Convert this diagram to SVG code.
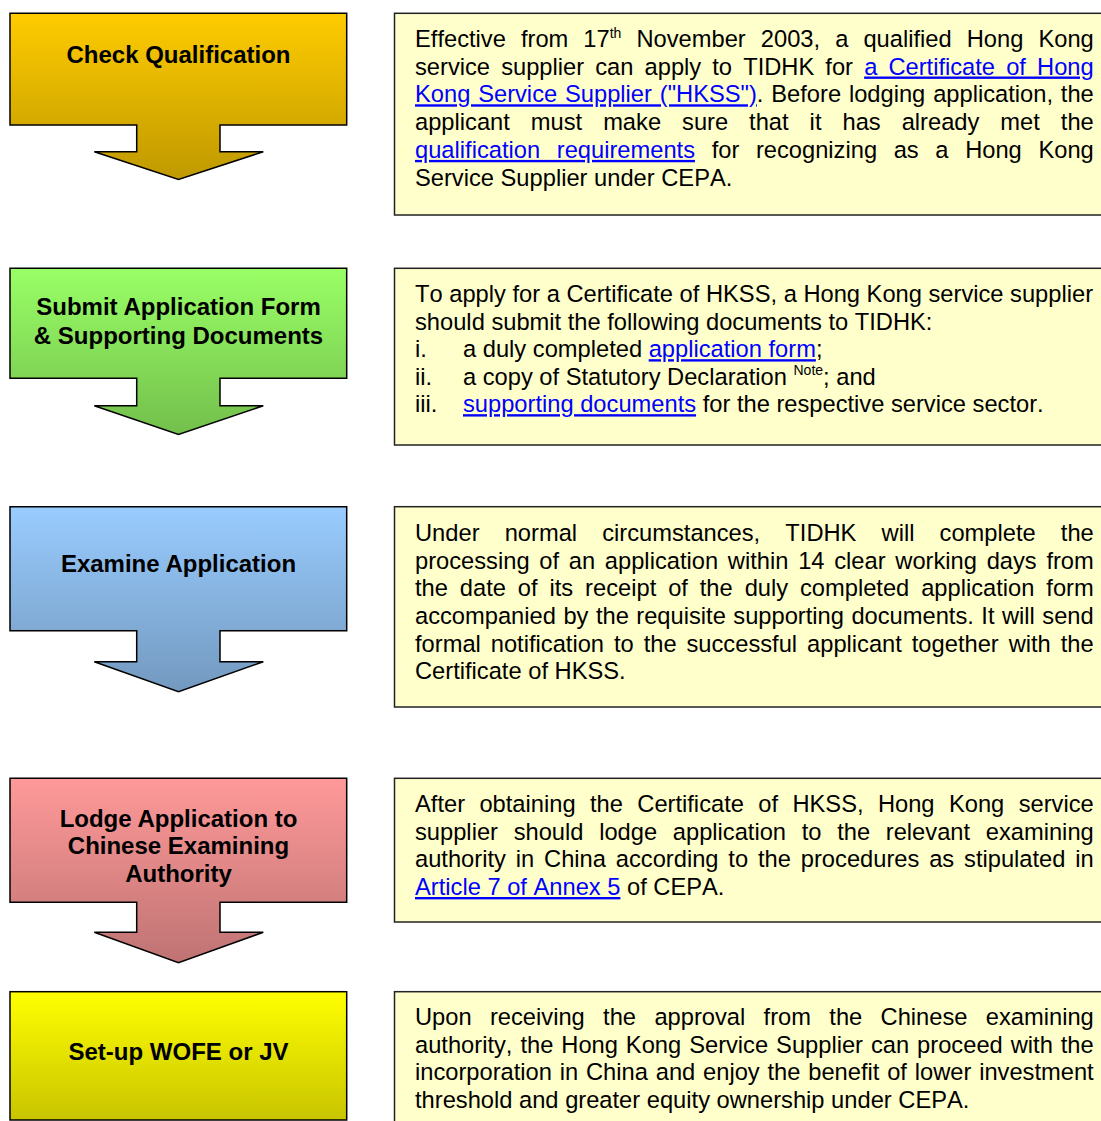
<svg xmlns="http://www.w3.org/2000/svg" width="1101" height="1121" viewBox="0 0 1101 1121">
<style>
.lbl{font-family:"Liberation Sans",Arial,sans-serif;font-weight:bold;font-size:24px;text-anchor:middle;fill:#000}
.txt{font-family:"Liberation Sans",Arial,sans-serif;font-size:23.7px;fill:#000;font-kerning:none}
.lnk{fill:#0000FF;text-decoration:underline}
.sup{font-size:14px}
.arrow{stroke:#000;stroke-width:1.5}
.box{fill:#FFFFCC;stroke:#222;stroke-width:1.5}
</style>
<defs>
<linearGradient id="g1" x1="0" y1="0" x2="0" y2="1"><stop offset="0" stop-color="#FFCC00"/><stop offset="1" stop-color="#BF9900"/></linearGradient>
<linearGradient id="g2" x1="0" y1="0" x2="0" y2="1"><stop offset="0" stop-color="#99FF66"/><stop offset="1" stop-color="#73BF4C"/></linearGradient>
<linearGradient id="g3" x1="0" y1="0" x2="0" y2="1"><stop offset="0" stop-color="#99CCFF"/><stop offset="1" stop-color="#7399BF"/></linearGradient>
<linearGradient id="g4" x1="0" y1="0" x2="0" y2="1"><stop offset="0" stop-color="#FF9999"/><stop offset="1" stop-color="#BF7373"/></linearGradient>
<linearGradient id="g5" x1="0" y1="0" x2="0" y2="1"><stop offset="0" stop-color="#FFFF00"/><stop offset="1" stop-color="#C8C400"/></linearGradient>
</defs>
<rect width="1101" height="1121" fill="#FFFFFF"/>

<g id="step1">
<path class="arrow" fill="url(#g1)" d="M10,13.3 H346.7 V125 H220 V151.7 H263.3 L178.5,179.5 L94.3,151.7 H136.7 V125 H10 Z"/>
<text class="lbl" x="178.5" y="63">Check Qualification</text>
</g>
<g id="step2">
<path class="arrow" fill="url(#g2)" d="M10,268.3 H346.7 V378.3 H220 V405.7 H263.3 L178.5,434.5 L94.3,405.7 H136.7 V378.3 H10 Z"/>
<text class="lbl" x="178.5" y="314.5">Submit Application Form</text>
<text class="lbl" x="178.5" y="343.5">&amp; Supporting Documents</text>
</g>
<g id="step3">
<path class="arrow" fill="url(#g3)" d="M10,506.7 H346.7 V630.7 H220 V661.7 H263.3 L178.5,691.7 L94.3,661.7 H136.7 V630.7 H10 Z"/>
<text class="lbl" x="178.5" y="572">Examine Application</text>
</g>
<g id="step4">
<path class="arrow" fill="url(#g4)" d="M10,778.3 H346.7 V902.3 H220 V932.3 H263.3 L178.5,962.7 L94.3,932.3 H136.7 V902.3 H10 Z"/>
<text class="lbl" x="178.5" y="826.7">Lodge Application to</text>
<text class="lbl" x="178.5" y="854.3">Chinese Examining</text>
<text class="lbl" x="178.5" y="881.7">Authority</text>
</g>
<g id="step5">
<rect class="arrow" fill="url(#g5)" x="10" y="991.7" width="336.7" height="128.3"/>
<text class="lbl" x="178.5" y="1060">Set-up WOFE or JV</text>
</g>

<g id="desc1">
<rect class="box" x="394.5" y="13.3" width="720" height="201.7"/>
<text class="txt" x="415" y="46.7" word-spacing="8.49">Effective from 17<tspan class="sup" dy="-9">th</tspan><tspan dy="9"> November 2003, a qualified Hong Kong</tspan></text>
<text class="txt" x="415" y="74.5" word-spacing="4.54">service supplier can apply to TIDHK for <tspan class="lnk">a Certificate of Hong</tspan></text>
<text class="txt" x="415" y="102.3" word-spacing="1.26"><tspan class="lnk">Kong Service Supplier ("HKSS")</tspan>. Before lodging application, the</text>
<text class="txt" x="415" y="130.1" word-spacing="14.41">applicant must make sure that it has already met the</text>
<text class="txt" x="415" y="157.9" word-spacing="10.06"><tspan class="lnk">qualification requirements</tspan> for recognizing as a Hong Kong</text>
<text class="txt" x="415" y="185.7">Service Supplier under CEPA.</text>
</g>

<g id="desc2">
<rect class="box" x="394.5" y="268.3" width="720" height="176.7"/>
<text class="txt" x="415" y="302.2">To apply for a Certificate of HKSS, a Hong Kong service supplier</text>
<text class="txt" x="415" y="329.7">should submit the following documents to TIDHK:</text>
<text class="txt" x="415" y="357.2">i.<tspan x="463">a duly completed </tspan><tspan class="lnk">application form</tspan>;</text>
<text class="txt" x="415" y="384.7">ii.<tspan x="463">a copy of Statutory Declaration </tspan><tspan class="sup" dy="-10">Note</tspan><tspan dy="10">; and</tspan></text>
<text class="txt" x="415" y="412.2">iii.<tspan x="463" class="lnk">supporting documents</tspan> for the respective service sector.</text>
</g>

<g id="desc3">
<rect class="box" x="394.5" y="506.7" width="720" height="200.3"/>
<text class="txt" x="415" y="541.2" word-spacing="18.57">Under normal circumstances, TIDHK will complete the</text>
<text class="txt" x="415" y="568.8" word-spacing="3.15">processing of an application within 14 clear working days from</text>
<text class="txt" x="415" y="596.4" word-spacing="5.33">the date of its receipt of the duly completed application form</text>
<text class="txt" x="415" y="624" word-spacing="0.9">accompanied by the requisite supporting documents. It will send</text>
<text class="txt" x="415" y="651.6" word-spacing="3.36">formal notification to the successful applicant together with the</text>
<text class="txt" x="415" y="679.2">Certificate of HKSS.</text>
</g>

<g id="desc4">
<rect class="box" x="394.5" y="778.3" width="720" height="143.7"/>
<text class="txt" x="415" y="812.2" word-spacing="7.81">After obtaining the Certificate of HKSS, Hong Kong service</text>
<text class="txt" x="415" y="839.8" word-spacing="9.11">supplier should lodge application to the relevant examining</text>
<text class="txt" x="415" y="867.4" word-spacing="3.29">authority in China according to the procedures as stipulated in</text>
<text class="txt" x="415" y="895"><tspan class="lnk">Article 7 of Annex 5</tspan> of CEPA.</text>
</g>

<g id="desc5">
<rect class="box" x="394.5" y="991.7" width="720" height="140"/>
<text class="txt" x="415" y="1025.2" word-spacing="11.76">Upon receiving the approval from the Chinese examining</text>
<text class="txt" x="415" y="1052.8" word-spacing="1.38">authority, the Hong Kong Service Supplier can proceed with the</text>
<text class="txt" x="415" y="1080.4" word-spacing="1.23">incorporation in China and enjoy the benefit of lower investment</text>
<text class="txt" x="415" y="1108">threshold and greater equity ownership under CEPA.</text>
</g>

<g id="connectors"></g>
</svg>
